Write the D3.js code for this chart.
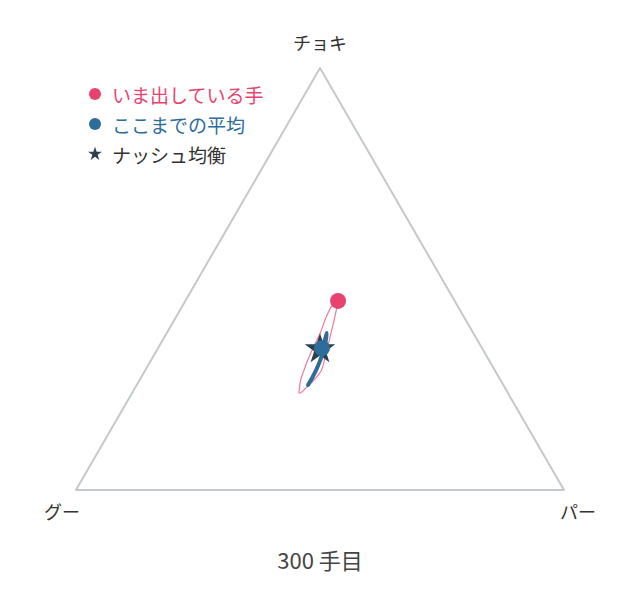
<!DOCTYPE html>
<html>
<head>
<meta charset="utf-8">
<script src="https://cdn.jsdelivr.net/npm/d3@7"></script>
<style>
  html, body { margin: 0; padding: 0; background: #fff; }
  svg { display: block; }
  text { font-family: "Noto Sans CJK JP", "Noto Sans", sans-serif; }
</style>
</head>
<body>
<svg id="chart" width="640" height="600"></svg>
<script>
// ---- data (ternary: guu, choki, paa) ----
const vertexLabels = ["グー", "チョキ", "パー"];
const roundLabel = "300 手目";
const legendLabels = ["いま出している手", "ここまでの平均", "ナッシュ均衡"];

const handGuu   = [0.239, 0.253, 0.278, 0.305, 0.332, 0.355, 0.379, 0.405, 0.423, 0.428, 0.421, 0.409, 0.394, 0.371, 0.342, 0.315, 0.284, 0.260, 0.245];
const handChoki = [0.448, 0.427, 0.391, 0.353, 0.315, 0.284, 0.263, 0.244, 0.231, 0.230, 0.242, 0.261, 0.280, 0.308, 0.341, 0.370, 0.408, 0.434, 0.446];
const handPaa   = [0.313, 0.320, 0.331, 0.342, 0.353, 0.361, 0.358, 0.351, 0.346, 0.342, 0.337, 0.330, 0.326, 0.321, 0.317, 0.315, 0.308, 0.306, 0.309];

const avgGuu   = [0.400, 0.384, 0.366, 0.347, 0.330, 0.313, 0.300, 0.312, 0.328];
const avgChoki = [0.249, 0.265, 0.284, 0.306, 0.327, 0.351, 0.372, 0.356, 0.336];
const avgPaa   = [0.351, 0.351, 0.350, 0.347, 0.343, 0.336, 0.328, 0.332, 0.336];

const currentHand = [0.239, 0.448, 0.313];
const currentAvg  = [0.328, 0.336, 0.336];
const nash        = [1/3, 1/3, 1/3];

// ---- drawing ----
const svg = d3.select("#chart");
const S3 = Math.sqrt(3) / 2;
const xScale = d3.scaleLinear().domain([0, 1]).range([76, 564]);
const yScale = d3.scaleLinear().domain([0, S3]).range([490, 68]);
const proj = ([g, c, p]) => [xScale(p + c / 2), yScale(c * S3)];

const pink = "#e8436e", blue = "#2e6d9a", navy = "#2c3e50";

// triangle
const verts = [[1, 0, 0], [0, 1, 0], [0, 0, 1]];
svg.append("path")
  .attr("d", d3.line()(verts.map(proj)) + "Z")
  .attr("fill", "none").attr("stroke", "#c3c9cc").attr("stroke-width", 2)
  .attr("stroke-linejoin", "round");

// vertex labels
const vp = verts.map(proj);
svg.append("text").text(vertexLabels[1])
  .attr("x", vp[1][0]).attr("y", vp[1][1] - 26)
  .attr("text-anchor", "middle").attr("dominant-baseline", "central")
  .attr("font-size", 18).attr("fill", "#333");
svg.append("text").text(vertexLabels[0])
  .attr("x", vp[0][0] - 14).attr("y", vp[0][1] + 21)
  .attr("text-anchor", "middle").attr("dominant-baseline", "central")
  .attr("font-size", 18).attr("fill", "#333");
svg.append("text").text(vertexLabels[2])
  .attr("x", vp[2][0] + 14).attr("y", vp[2][1] + 21)
  .attr("text-anchor", "middle").attr("dominant-baseline", "central")
  .attr("font-size", 18).attr("fill", "#333");

// round label
svg.append("text").text(roundLabel)
  .attr("x", 320).attr("y", 559)
  .attr("text-anchor", "middle").attr("dominant-baseline", "central")
  .attr("font-size", 22).attr("fill", "#444");

// hand trail
const handPts = handGuu.map((g, i) => proj([g, handChoki[i], handPaa[i]]));
svg.append("path")
  .attr("d", d3.line().curve(d3.curveCatmullRom)(handPts))
  .attr("fill", "none").attr("stroke", pink).attr("stroke-opacity", 0.7)
  .attr("stroke-width", 1.2);

// nash star
const np = proj(nash);
svg.append("path")
  .attr("d", d3.symbol(d3.symbolStar).size(290)())
  .attr("transform", `translate(${np[0]},${np[1]})`)
  .attr("fill", navy);

// average trail
const avgPts = avgGuu.map((g, i) => proj([g, avgChoki[i], avgPaa[i]]));
svg.append("path")
  .attr("d", d3.line().curve(d3.curveCatmullRom)(avgPts))
  .attr("fill", "none").attr("stroke", blue).attr("stroke-width", 4)
  .attr("stroke-linecap", "round").attr("stroke-linejoin", "round");

// average dot
const ap = proj(currentAvg);
svg.append("circle").attr("cx", ap[0]).attr("cy", ap[1]).attr("r", 8).attr("fill", blue);

// current hand dot
const hp = proj(currentHand);
svg.append("circle").attr("cx", hp[0]).attr("cy", hp[1]).attr("r", 8).attr("fill", pink);

// legend
const legColors = [pink, blue, "#333"];
const lg = svg.append("g");
legendLabels.forEach((lab, i) => {
  const y = 94 + i * 30;
  if (i < 2) {
    lg.append("circle").attr("cx", 95).attr("cy", y).attr("r", 6).attr("fill", legColors[i]);
  } else {
    lg.append("path").attr("d", d3.symbol(d3.symbolStar).size(60)())
      .attr("transform", `translate(95,${y})`).attr("fill", navy);
  }
  lg.append("text").text(lab)
    .attr("x", 112).attr("y", y)
    .attr("dominant-baseline", "central")
    .attr("font-size", 19).attr("fill", legColors[i]);
});
</script>
</body>
</html>
